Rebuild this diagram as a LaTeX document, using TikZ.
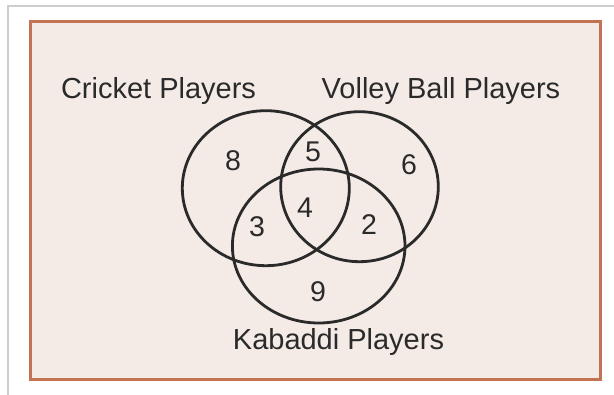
\documentclass[tikz,border=0pt]{standalone}
\usepackage{fontspec}
\setmainfont{Liberation Sans}
\usetikzlibrary{shapes.geometric}
\definecolor{framegray}{RGB}{205,205,205}
\definecolor{boxfill}{RGB}{244,235,231}
\definecolor{boxedge}{RGB}{196,114,84}
\definecolor{ink}{RGB}{42,42,42}
\tikzset{
  setring/.style={draw=ink, line width=2.8pt, ellipse, inner sep=0pt},
  lbl/.style={text=ink, inner sep=0pt, anchor=base, font=\fontsize{29}{34}\selectfont},
  num/.style={text=ink, inner sep=0pt, anchor=center, font=\fontsize{28.5}{34}\selectfont},
}
\begin{document}
\begin{tikzpicture}[x=1pt,y=-1pt]
\useasboundingbox (0,0) rectangle (614,395);
\fill[white] (0,0) rectangle (614,395);
\draw[framegray, line width=1.2pt] (8,395) -- (8,6) -- (614,6);
\draw[boxedge, fill=boxfill, line width=3pt] (30,22) rectangle (600,380);
\node[setring, minimum width=167pt, minimum height=155pt] (A) at (265.8,188.2) {};
\node[setring, minimum width=157.6pt, minimum height=150pt] (B) at (359.5,186.7) {};
\node[setring, minimum width=172.6pt, minimum height=154pt] (C) at (318.7,246) {};
\node[lbl] (la) at (158.5,99) {Cricket Players};
\node[lbl] (lb) at (441,99) {Volley Ball Players};
\node[lbl] (lc) at (338.5,350) {Kabaddi Players};
\node[num] (n8) at (233,161) {8};
\node[num] (n5) at (313,152) {5};
\node[num] (n6) at (409,165) {6};
\node[num] (n4) at (305,208) {4};
\node[num] (n3) at (257,227) {3};
\node[num] (n2) at (369,225) {2};
\node[num] (n9) at (318,292) {9};
\end{tikzpicture}
\end{document}
